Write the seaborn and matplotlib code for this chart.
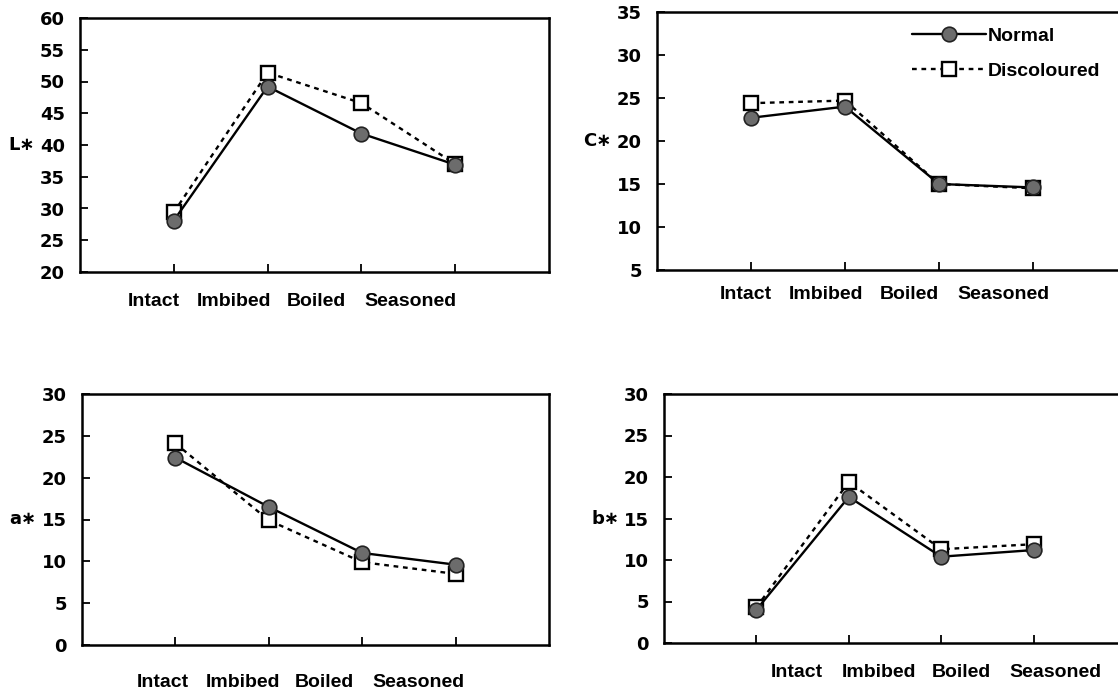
import numpy as np
import pandas as pd
import matplotlib
matplotlib.use("Agg")
import matplotlib.pyplot as plt
import seaborn as sns

stages = ["Intact", "Imbibed", "Boiled", "Seasoned"]
series_names = ["Normal", "Discoloured"]

L_normal = [28.1, 49.2, 41.8, 36.9]
L_disc = [29.4, 51.4, 46.6, 37.0]
C_normal = [22.7, 24.0, 15.0, 14.6]
C_disc = [24.4, 24.7, 15.0, 14.5]
a_normal = [22.4, 16.5, 11.0, 9.6]
a_disc = [24.1, 14.9, 9.9, 8.5]
b_normal = [4.0, 17.6, 10.4, 11.2]
b_disc = [4.3, 19.4, 11.3, 11.9]

sns.set_theme(style="white")
plt.rcParams["font.family"] = ["DejaVu Sans"]
plt.rcParams["font.weight"] = "bold"
plt.rcParams["text.color"] = "black"
plt.rcParams["axes.labelcolor"] = "black"

W, H = 1118, 694
fig = plt.figure(figsize=(W / 100, H / 100), dpi=100)


def add_axes(l, t, r, b):
    return fig.add_axes([l / W, 1 - b / H, (r - l) / W, (b - t) / H])


# layout: axes box in pixels, category-label centres (in category units), label pad
panels = [
    dict(box=(80, 18, 549, 272), normal=L_normal, disc=L_disc, ylim=(20, 60), label="L\u2217",
         xpad=15, lab_pos=[-0.21, 0.64, 1.52, 2.52]),
    dict(box=(657, 12, 1127, 270), normal=C_normal, disc=C_disc, ylim=(5, 35), label="C\u2217",
         xpad=11.5, lab_pos=[-0.06, 0.80, 1.69, 2.69]),
    dict(box=(82, 394, 549, 645), normal=a_normal, disc=a_disc, ylim=(0, 30), label="a\u2217",
         xpad=21, lab_pos=[-0.14, 0.72, 1.60, 2.60]),
    dict(box=(664, 394, 1126, 643), normal=b_normal, disc=b_disc, ylim=(0, 30), label="b\u2217",
         xpad=15, lab_pos=[0.44, 1.33, 2.22, 3.24]),
]

FS = 13
WORD_FONT = ["Liberation Sans", "DejaVu Sans"]
xpos = np.arange(len(stages))

axes = []
for p in panels:
    ax = add_axes(*p["box"])
    df = pd.DataFrame({"stage": xpos, "Normal": p["normal"], "Discoloured": p["disc"]})
    sns.lineplot(data=df, x="stage", y="Discoloured", ax=ax, color="black",
                 linestyle=(0, (2, 2)), linewidth=1.7, marker="s", markersize=10,
                 markerfacecolor="white", markeredgecolor="black", markeredgewidth=1.7,
                 label="Discoloured", legend=False, zorder=2)
    sns.lineplot(data=df, x="stage", y="Normal", ax=ax, color="black",
                 linestyle="-", linewidth=1.7, marker="o", markersize=10.5,
                 markerfacecolor="#6c6c6c", markeredgecolor="#222222", markeredgewidth=1.2,
                 label="Normal", legend=False, zorder=3)
    lo, hi = p["ylim"]
    ax.set_ylim(lo, hi)
    ax.set_yticks(np.arange(lo, hi + 0.1, 5))
    ax.set_xlim(-1, 4)
    ax.set_xticks(xpos)
    ax.set_xticklabels([""] * len(stages))
    ax.set_xticks(p["lab_pos"], minor=True)
    ax.set_xticklabels(stages, minor=True, fontfamily=WORD_FONT, fontsize=14, fontweight="bold")
    ax.set_xlabel("")
    ax.set_ylabel(p["label"], rotation=0, fontsize=FS, va="center", ha="right",
                  fontweight="bold")
    ax.yaxis.set_label_coords(-0.097, 0.5)
    ax.tick_params(axis="both", which="major", direction="in", length=6, width=1.3,
                   color="black", labelsize=FS, labelcolor="black")
    ax.tick_params(axis="x", which="minor", bottom=True, length=0, pad=p["xpad"],
                   labelcolor="black")
    ax.tick_params(axis="x", which="major", bottom=True)
    ax.tick_params(axis="y", which="major", pad=11, left=True)
    ax.tick_params(axis="y", which="minor", left=False)
    for s in ax.spines.values():
        s.set_visible(True)
        s.set_color("black")
        s.set_linewidth(1.8)
    ax.grid(False)
    ax.set_facecolor("white")
    axes.append(ax)

h, l = axes[1].get_legend_handles_labels()
order = [l.index("Normal"), l.index("Discoloured")]
axes[1].legend([h[i] for i in order], [l[i] for i in order], loc="upper left",
               bbox_to_anchor=(912 / W, 1 - 27 / H), bbox_transform=fig.transFigure,
               frameon=False, handlelength=3.8, handletextpad=0.1,
               labelspacing=0.9, borderpad=0, borderaxespad=0,
               prop=dict(family=WORD_FONT, size=14, weight="bold"))

fig.savefig("out.png", dpi=100, facecolor="white")
